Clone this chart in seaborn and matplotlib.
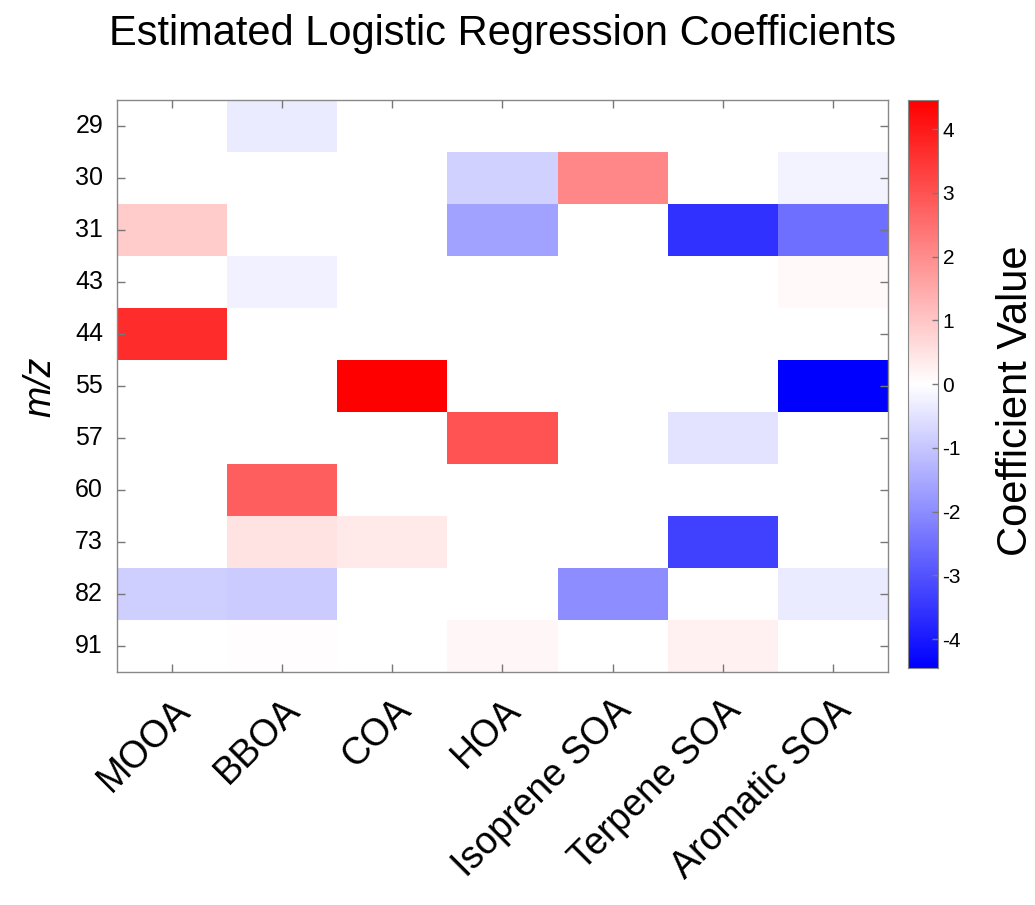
import numpy as np
import pandas as pd
import matplotlib
matplotlib.use("Agg")
import matplotlib.pyplot as plt
from matplotlib.colors import LinearSegmentedColormap
import seaborn as sns

sources = ["MOOA", "BBOA", "COA", "HOA", "Isoprene SOA", "Terpene SOA", "Aromatic SOA"]
mz = ["29", "30", "31", "43", "44", "55", "57", "60", "73", "82", "91"]

# coefficients per source, one value per m/z row
mooa = [0, 0, 0.9, 0, 3.65, 0, 0, 0, 0, -0.85, 0]
bboa = [-0.35, 0, 0, -0.25, 0, 0, 0, 2.8, 0.5, -0.9, 0.05]
coa = [0, 0, 0, 0, 0, 4.45, 0, 0, 0.4, 0, 0]
hoa = [0, -0.8, -1.65, 0, 0, 0, 3.0, 0, 0, 0, 0.15]
isoprene = [0, 2.1, 0, 0, 0, 0, 0, 0, 0, -2.0, 0]
terpene = [0, 0, -3.6, 0, 0, 0, -0.5, 0, -3.3, 0, 0.25]
aromatic = [0, -0.2, -2.5, 0.1, 0, -4.45, 0, 0, 0, -0.35, 0]

df = pd.DataFrame({"MOOA": mooa, "BBOA": bboa, "COA": coa, "HOA": hoa,
                   "Isoprene SOA": isoprene, "Terpene SOA": terpene,
                   "Aromatic SOA": aromatic}, index=mz)[sources]

sns.set_style("white")
plt.rcParams["font.family"] = ["Liberation Sans", "DejaVu Sans"]
plt.rcParams["text.color"] = "black"
plt.rcParams["axes.labelcolor"] = "black"
plt.rcParams["xtick.color"] = "black"
plt.rcParams["ytick.color"] = "black"
plt.rcParams["axes.unicode_minus"] = False

# odd N so that 0 lands exactly on white
cmap = LinearSegmentedColormap.from_list("bwr_odd", ["#0000ff", "#ffffff", "#ff0000"], N=255)

fig = plt.figure(figsize=(10.35, 9.05), dpi=100)
ax = fig.add_axes([0.113, 0.257, 0.745, 0.632])
cax = fig.add_axes([0.877, 0.262, 0.029, 0.627])

sns.heatmap(df, cmap=cmap, vmin=-4.45, vmax=4.45, ax=ax, cbar_ax=cax,
            linewidths=0, cbar_kws={"ticks": [-4, -3, -2, -1, 0, 1, 2, 3, 4]})

# ticks on top of the cells, matlab-style box
ax.set_axisbelow(False)
cax.set_axisbelow(False)
for s in ax.spines.values():
    s.set_visible(True)
    s.set_color("#888888")
    s.set_linewidth(1)
ax.tick_params(axis="both", direction="in", length=6, width=1, color="#777777",
               bottom=True, left=True, top=True, right=True,
               labeltop=False, labelright=False, labelsize=18)
ax.set_xticklabels(sources, rotation=45, ha="right", rotation_mode="anchor", fontsize=27)
ax.set_yticklabels(mz, rotation=0, fontsize=18)
ax.tick_params(axis="x", pad=14)
ax.tick_params(axis="y", pad=10)
ax.set_xlabel("")
ax.set_ylabel("m/z", fontsize=27, style="italic", labelpad=12)
ax.set_title("Estimated Logistic Regression Coefficients", fontsize=30, pad=40)

cax.tick_params(direction="in", length=4, width=1, color="#777777", labelsize=15, right=True)
for s in cax.spines.values():
    s.set_visible(True)
    s.set_color("#888888")
cax.set_ylabel("Coefficient Value", fontsize=30)
cax.yaxis.set_label_coords(2.95, 0.47)

fig.savefig("out.png", dpi=100)
